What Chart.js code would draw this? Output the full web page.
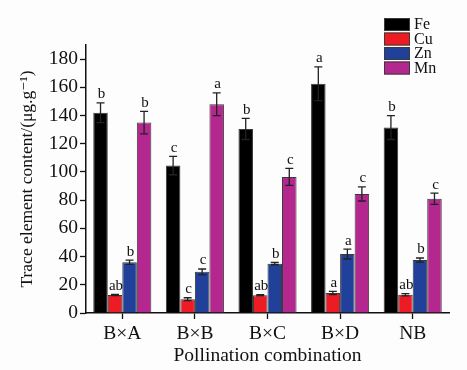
<!DOCTYPE html>
<html>
<head>
<meta charset="utf-8">
<script src="https://cdn.jsdelivr.net/npm/chart.js@4.4.0/dist/chart.umd.min.js"></script>
<style>
    html, body { margin: 0; padding: 0; background: #fdfdfd; }
    #wrap { width: 467px; height: 370px; }
</style>
</head>
<body>
<div id="wrap"><canvas id="chart-unsur"></canvas></div>
<script>
const kombinasi = ["B×A", "B×B", "B×C", "B×D", "NB"];
const tickY = [0, 20, 40, 60, 80, 100, 120, 140, 160, 180];

const nilaiFe = [142, 104.5, 130.5, 162.5, 131.5];
const nilaiCu = [12.8, 9.8, 12.6, 14.2, 13];
const nilaiZn = [36, 29.2, 35, 41.8, 37.5];
const nilaiMn = [135, 148, 96.5, 84.4, 81];

const errFe = [7, 6.5, 7.5, 12, 8.5];
const errCu = [0.4, 1, 0.4, 1.2, 0.8];
const errZn = [1.5, 2, 0.8, 3.5, 1.5];
const errMn = [8, 8, 6, 5, 4];

const hurufFe = ["b", "c", "b", "a", "b"];
const hurufCu = ["ab", "c", "ab", "a", "ab"];
const hurufZn = ["b", "c", "b", "a", "b"];
const hurufMn = ["b", "a", "c", "c", "c"];

const fontSerif = "'Liberation Serif', 'DejaVu Serif', serif";

function buatDataset(label, data, err, huruf, warna) {
    return {
        label: label,
        data: data,
        err: err,
        huruf: huruf,
        backgroundColor: warna,
        borderColor: "#3a3a3a",
        borderWidth: 1,
        barPercentage: 1,
        categoryPercentage: 0.8,
    };
}

// error bar, huruf signifikansi dan legenda digambar manual
const pluginErrorBar = {
    id: "errorBar",
    afterDatasetsDraw(chart) {
        const ctx = chart.ctx;
        const y = chart.scales.y;
        ctx.save();
        chart.data.datasets.forEach(function (ds, i) {
            const meta = chart.getDatasetMeta(i);
            meta.data.forEach(function (bar, j) {
                const atas = y.getPixelForValue(ds.data[j] + ds.err[j]);
                const bawah = y.getPixelForValue(ds.data[j] - ds.err[j]);
                ctx.strokeStyle = "#222";
                ctx.lineWidth = 1.3;
                ctx.beginPath();
                ctx.moveTo(bar.x, atas);
                ctx.lineTo(bar.x, bawah);
                ctx.moveTo(bar.x - 4, atas);
                ctx.lineTo(bar.x + 4, atas);
                ctx.moveTo(bar.x - 4, bawah);
                ctx.lineTo(bar.x + 4, bawah);
                ctx.stroke();

                ctx.fillStyle = "#111";
                ctx.font = "15px " + fontSerif;
                ctx.textAlign = "center";
                ctx.textBaseline = "bottom";
                ctx.fillText(ds.huruf[j], bar.x + 1, atas - 1);
            });
        });

        // legenda
        let ly = 18;
        chart.data.datasets.forEach(function (ds) {
            ctx.fillStyle = ds.backgroundColor;
            ctx.strokeStyle = "#3a3a3a";
            ctx.lineWidth = 1;
            ctx.fillRect(384, ly, 26, 13);
            ctx.strokeRect(384.5, ly + 0.5, 25, 12);
            ctx.fillStyle = "#111";
            ctx.font = "16px " + fontSerif;
            ctx.textAlign = "left";
            ctx.textBaseline = "middle";
            ctx.fillText(ds.label, 414, ly + 7);
            ly += 14.5;
        });
        ctx.restore();
    },
};

new Chart(document.getElementById("chart-unsur"), {
    type: "bar",
    data: {
        labels: kombinasi,
        datasets: [
            buatDataset("Fe", nilaiFe, errFe, hurufFe, "#000000"),
            buatDataset("Cu", nilaiCu, errCu, hurufCu, "#ed1c24"),
            buatDataset("Zn", nilaiZn, errZn, hurufZn, "#21409a"),
            buatDataset("Mn", nilaiMn, errMn, hurufMn, "#b3278e"),
        ],
    },
    options: {
        responsive: true,
        maintainAspectRatio: false,
        animation: false,
        layout: { padding: { top: 45, right: 18, left: 0, bottom: 0 } },
        plugins: {
            legend: { display: false },
            tooltip: { enabled: false },
        },
        scales: {
            x: {
                grid: {
                    display: true,
                    drawOnChartArea: false,
                    offset: false,
                    color: "#111",
                    tickLength: 6,
                    tickWidth: 1.3,
                },
                border: { color: "#111", width: 1.5 },
                ticks: {
                    color: "#111",
                    font: { family: fontSerif, size: 19.5 },
                    padding: 3,
                },
                title: {
                    display: true,
                    text: "Pollination combination",
                    color: "#111",
                    font: { family: fontSerif, size: 19.5 },
                    padding: { top: 0, bottom: 2 },
                },
                afterFit(scale) {
                    scale.height = 57;
                },
            },
            y: {
                min: 0,
                max: 190,
                grid: {
                    display: true,
                    drawOnChartArea: false,
                    color: "#111",
                    tickLength: 6,
                    tickWidth: 1.3,
                },
                border: { color: "#111", width: 1.5 },
                ticks: {
                    color: "#111",
                    font: { family: fontSerif, size: 19.5 },
                    padding: 2,
                },
                afterBuildTicks(scale) {
                    scale.ticks = tickY.map(function (v) {
                        return { value: v };
                    });
                },
                title: {
                    display: true,
                    text: "Trace element content/(μg.g⁻¹)",
                    color: "#111",
                    font: { family: fontSerif, size: 17.5 },
                    padding: { top: 17, bottom: 0 },
                },
                afterFit(scale) {
                    scale.width = 86;
                },
            },
        },
    },
    plugins: [pluginErrorBar],
});
</script>
</body>
</html>
